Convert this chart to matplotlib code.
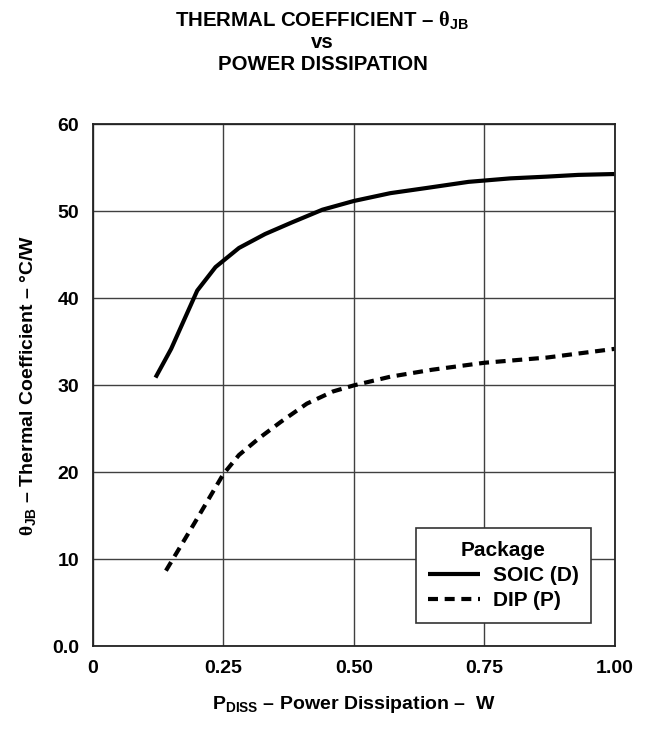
import matplotlib
matplotlib.use('Agg')
from matplotlib import rcParams, pyplot as plt

rcParams['font.family'] = ['Liberation Sans', 'DejaVu Sans']
rcParams['font.weight'] = 'bold'
rcParams['axes.labelweight'] = 'bold'
rcParams['mathtext.fontset'] = 'custom'
rcParams['mathtext.rm'] = 'Liberation Serif'
rcParams['mathtext.bf'] = 'Liberation Sans:bold'
rcParams['mathtext.it'] = 'Liberation Sans:italic'

# SOIC (D) curve
soic_p = [0.12, 0.15, 0.20, 0.235, 0.28, 0.33, 0.38, 0.44, 0.50, 0.57, 0.64, 0.72, 0.80, 0.87, 0.93, 1.00]
soic_theta = [30.9, 34.2, 40.9, 43.6, 45.8, 47.4, 48.7, 50.2, 51.2, 52.1, 52.7, 53.4, 53.8, 54.0, 54.2, 54.3]

# DIP (P) curve
dip_p = [0.14, 0.195, 0.25, 0.28, 0.32, 0.36, 0.41, 0.46, 0.50, 0.57, 0.65, 0.75, 0.87, 1.00]
dip_theta = [8.7, 14.2, 19.8, 22.0, 24.0, 25.8, 27.9, 29.3, 30.0, 31.0, 31.8, 32.6, 33.2, 34.2]

x_ticks = [0, 0.25, 0.50, 0.75, 1.00]
x_labels = ['0', '0.25', '0.50', '0.75', '1.00']
y_ticks = [0, 10, 20, 30, 40, 50, 60]
y_labels = ['0.0', '10', '20', '30', '40', '50', '60']

fig = plt.figure(figsize=(6.45, 7.32), dpi=100)
ax = fig.add_axes([0.144, 0.117, 0.809, 0.713])

ax.plot(soic_p, soic_theta, color='black', lw=3, solid_capstyle='butt', label='SOIC (D)')
ax.plot(dip_p, dip_theta, color='black', lw=3, dashes=(2.4, 1.6), dash_capstyle='butt', label='DIP (P)')

ax.set_xlim(0, 1.0)
ax.set_ylim(0, 60)
ax.set_xticks(x_ticks)
ax.set_xticklabels(x_labels)
ax.set_yticks(y_ticks)
ax.set_yticklabels(y_labels)
ax.tick_params(length=0, labelsize=14, pad=10)
ax.grid(True, color='#404040', lw=1)
for s in ax.spines.values():
    s.set_linewidth(1.3)
    s.set_color('#222222')

ax.set_xlabel(r'P$_{\mathbf{DISS}}$ – Power Dissipation –  W', fontsize=14, fontweight='bold', labelpad=12)
ax.set_ylabel(r'$\mathrm{\theta}_{\mathbf{JB}}$ – Thermal Coefficient – °C/W', fontsize=14, fontweight='bold', labelpad=10)

leg = ax.legend(title='Package', loc='lower right', bbox_to_anchor=(0.955, 0.045),
                prop={'weight': 'bold', 'size': 15}, title_fontsize=15, handlelength=2.5,
                fancybox=False, framealpha=1, edgecolor='#333333', borderpad=0.6,
                labelspacing=0.3, handletextpad=0.6, borderaxespad=0)
leg.get_title().set_fontweight('bold')
leg.get_frame().set_linewidth(1.2)

title_fs = 14.7
fig.text(0.5, 1 - 21 / 732, r'THERMAL COEFFICIENT – $\mathrm{\theta}_{\mathbf{JB}}$', ha='center', va='center', fontsize=title_fs)
fig.text(0.5, 1 - 43 / 732, 'vs', ha='center', va='center', fontsize=title_fs)
fig.text(0.5, 1 - 65 / 732, 'POWER DISSIPATION', ha='center', va='center', fontsize=title_fs)

plt.savefig('out.png', dpi=100)
plt.close()
